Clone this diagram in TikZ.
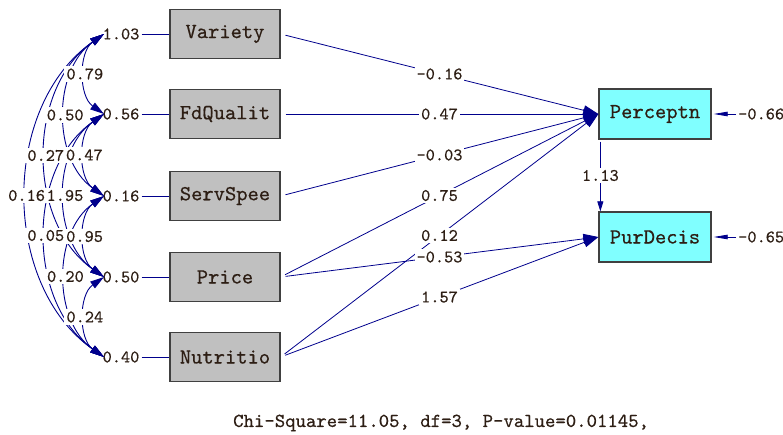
\documentclass[tikz,border=0pt]{standalone}
\usepackage{fontspec}
\newfontfamily\lisrel{lmmono10-regular.otf}[FakeBold=0.5]
\usetikzlibrary{arrows.meta}
\definecolor{pathblue}{RGB}{0,0,140}
\definecolor{boxgray}{RGB}{192,192,192}
\definecolor{boxcyan}{RGB}{128,255,255}
\definecolor{lbltext}{RGB}{45,30,20}

\begin{document}
\begin{tikzpicture}[x=1pt,y=-1pt,
	obs/.style={draw=black!75,line width=1.3pt,fill=boxgray,minimum width=110pt,minimum height=49pt,text=lbltext,font=\lisrel\fontsize{21.5}{21}\selectfont},
	lat/.style={obs,fill=boxcyan,minimum width=112pt,minimum height=50pt},
	est/.style={font=\lisrel\fontsize{17.5}{17}\selectfont,text=lbltext,inner sep=2pt},
	estbg/.style={est,fill=white},
	effect/.style={draw=pathblue,line width=0.8pt,shorten <=5pt,-{Triangle[length=15pt,width=10pt]}},
	cov/.style={draw=pathblue,line width=0.9pt,{Triangle[length=14pt,width=8pt]}-{Triangle[length=14pt,width=8pt]}},
	err/.style={draw=pathblue,line width=0.8pt,shorten >=2pt,-{Triangle[length=14pt,width=4.5pt]}}]
	\useasboundingbox (0,0) rectangle (783,435);
	% observed and latent variables
	\node[obs] (var) at (225,34) {Variety};
	\node[obs] (fdq) at (225,114) {FdQualit};
	\node[obs] (srv) at (225,196) {ServSpee};
	\node[obs] (prc) at (225,277) {Price};
	\node[obs] (nut) at (225,357) {Nutritio};
	\node[lat] (perc) at (655,114) {Perceptn};
	\node[lat] (purd) at (655,237) {PurDecis};
	% variances
	\foreach \v/\b/\y/\r in {vvar/var/34/1.03, vfdq/fdq/114/0.56, vsrv/srv/196/0.16, vprc/prc/277/0.50, vnut/nut/357/0.40}{
		\node[est] (\v) at (121,\y) {\r};
		\draw[pathblue,line width=0.8pt] (\v) -- (\b);
		\coordinate (c\b) at (104,\y);
	}
	% covariances
	\foreach \a/\b in {var/fdq, var/srv, var/prc, var/nut, fdq/srv, fdq/prc, fdq/nut, srv/prc, srv/nut, prc/nut}
		\draw[cov] (c\a) to[bend right=55] (c\b);
	\foreach \a/\b/\r in {var/fdq/0.79, var/srv/0.50, var/prc/0.27, var/nut/0.16, fdq/srv/0.47, fdq/prc/1.95, fdq/nut/0.05, srv/prc/0.95, srv/nut/0.20, prc/nut/0.24}
		\path (c\a) to[bend right=55] node[estbg] {\r} (c\b);
	% structural paths
	\foreach \a/\b in {var/perc, fdq/perc, srv/perc, prc/perc, nut/perc, prc/purd, nut/purd}
		\draw[effect] (\a.east) -- (\b.west);
	\foreach \a/\b/\r in {var/perc/-0.16, fdq/perc/0.47, srv/perc/-0.03, prc/perc/0.75, nut/perc/0.12, prc/purd/-0.53, nut/purd/1.57}
		\path (\a.east) -- node[estbg] {\r} (\b.west);
	\draw[effect,shorten <=2pt,-{Triangle[length=10pt,width=6pt]}] ([xshift=2pt]perc.south west) -- node[estbg] {1.13} ([xshift=2pt]purd.north west);
	% error terms
	\node[est,anchor=west] (eperc) at (736,114) {-0.66};
	\node[est,anchor=west] (epurd) at (736,237) {-0.65};
	\draw[err] (eperc) -- (perc);
	\draw[err] (epurd) -- (purd);
	\node[font=\lisrel\fontsize{19.8}{19}\selectfont,text=lbltext,anchor=west,inner sep=0pt] (fit) at (233,423) {Chi-Square=11.05, df=3, P-value=0.01145,};
\end{tikzpicture}
\end{document}
